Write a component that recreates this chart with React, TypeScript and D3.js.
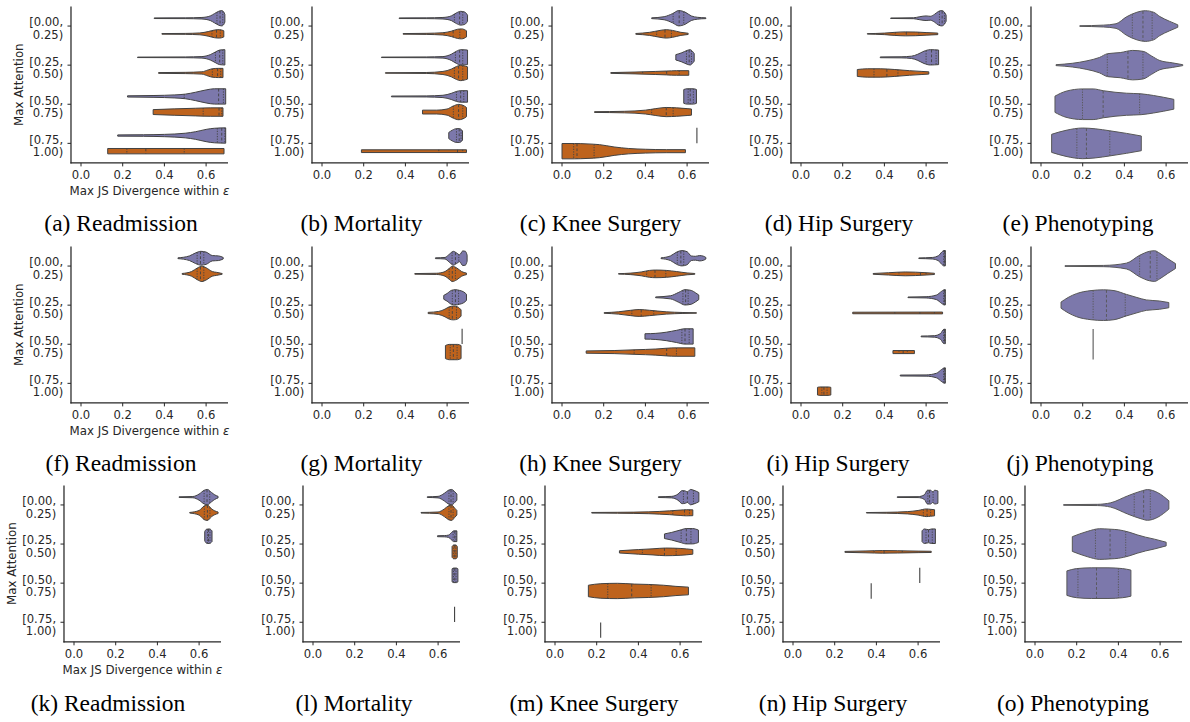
import * as d3 from 'd3';

type Pt = [number, number];
interface Violin {
  c: number; // attention bin
  h: number; // 0 purple, 1 orange, -1 single hue (no dodge)
  q?: [number, number, number];
  p?: Pt[]; // [value, relative density]
  at?: number; // single observation
}

const attentionBins = [
  ['[0.00,', '0.25)'],
  ['[0.25,', '0.50)'],
  ['[0.50,', '0.75)'],
  ['[0.75,', '1.00)'],
];
const xTicks = [0, 0.2, 0.4, 0.6];
const tasks = ['Readmission', 'Mortality', 'Knee Surgery', 'Hip Surgery', 'Phenotyping'];
const letters = 'abcdefghijklmno'.split('');

const panelA: Violin[] = [
  { c: 0, h: 0, q: [0.652, 0.667, 0.68], p: [[0.351, 0.04], [0.5, 0.05], [0.58, 0.1], [0.62, 0.3], [0.64, 0.6], [0.66, 0.9], [0.675, 1], [0.685, 0.8], [0.69, 0.5]] },
  { c: 0, h: 1, q: [0.628, 0.65, 0.668], p: [[0.388, 0.04], [0.5, 0.06], [0.57, 0.12], [0.61, 0.3], [0.64, 0.5], [0.665, 0.55], [0.685, 0.4]] },
  { c: 1, h: 0, q: [0.645, 0.665, 0.68], p: [[0.271, 0.03], [0.5, 0.05], [0.58, 0.1], [0.62, 0.35], [0.645, 0.7], [0.665, 0.95], [0.69, 1]] },
  { c: 1, h: 1, q: [0.63, 0.655, 0.67], p: [[0.372, 0.05], [0.5, 0.08], [0.58, 0.15], [0.61, 0.4], [0.63, 0.55], [0.66, 0.6], [0.681, 0.6]] },
  { c: 2, h: 0, q: [0.495, 0.66, 0.683], p: [[0.223, 0.08], [0.35, 0.12], [0.45, 0.2], [0.5, 0.3], [0.55, 0.55], [0.6, 0.85], [0.64, 1], [0.694, 1]] },
  { c: 2, h: 1, q: [0.586, 0.662, 0.675], p: [[0.346, 0.32], [0.45, 0.42], [0.55, 0.5], [0.62, 0.55], [0.681, 0.55]] },
  { c: 3, h: 0, q: [0.654, 0.675, 0.69], p: [[0.176, 0.08], [0.3, 0.1], [0.4, 0.15], [0.5, 0.3], [0.55, 0.5], [0.6, 0.8], [0.64, 0.95], [0.694, 1]] },
  { c: 3, h: 1, q: [0.22, 0.311, 0.495], p: [[0.128, 0.35], [0.686, 0.35]] },
];

const panelB: Violin[] = [
  { c: 0, h: 0, q: [0.635, 0.66, 0.675], p: [[0.37, 0.04], [0.5, 0.05], [0.58, 0.1], [0.62, 0.3], [0.645, 0.7], [0.665, 0.9], [0.685, 0.8], [0.698, 0.4]] },
  { c: 0, h: 1, q: [0.586, 0.629, 0.661], p: [[0.389, 0.04], [0.5, 0.07], [0.58, 0.15], [0.62, 0.35], [0.65, 0.6], [0.67, 0.65], [0.693, 0.4]] },
  { c: 1, h: 0, q: [0.64, 0.66, 0.675], p: [[0.285, 0.03], [0.5, 0.05], [0.58, 0.1], [0.62, 0.4], [0.645, 0.8], [0.665, 1], [0.698, 0.95]] },
  { c: 1, h: 1, q: [0.635, 0.655, 0.675], p: [[0.304, 0.03], [0.5, 0.06], [0.58, 0.2], [0.62, 0.5], [0.645, 0.85], [0.665, 1], [0.698, 0.8]] },
  { c: 2, h: 0, q: [0.645, 0.665, 0.68], p: [[0.333, 0.05], [0.5, 0.07], [0.58, 0.15], [0.62, 0.4], [0.645, 0.65], [0.665, 0.75], [0.698, 0.75]] },
  { c: 2, h: 1, q: [0.63, 0.655, 0.675], p: [[0.482, 0.25], [0.55, 0.25], [0.6, 0.4], [0.63, 0.8], [0.655, 1], [0.675, 0.9], [0.693, 0.6]] },
  { c: 3, h: 0, q: [0.645, 0.658, 0.667], p: [[0.608, 0.4], [0.625, 0.7], [0.645, 0.9], [0.66, 0.9], [0.674, 0.6]] },
  { c: 3, h: 1, q: [0.56, 0.65, 0.675], p: [[0.189, 0.18], [0.693, 0.18]] },
];

const panelC: Violin[] = [
  { c: 0, h: 0, q: [0.533, 0.562, 0.584], p: [[0.43, 0.05], [0.49, 0.2], [0.53, 0.6], [0.56, 1], [0.59, 0.8], [0.62, 0.3], [0.65, 0.12], [0.69, 0.05]] },
  { c: 0, h: 1, q: [0.454, 0.494, 0.525], p: [[0.354, 0.05], [0.42, 0.2], [0.47, 0.45], [0.5, 0.55], [0.53, 0.45], [0.57, 0.2], [0.605, 0.08]] },
  { c: 1, h: 0, q: [0.597, 0.61, 0.621], p: [[0.546, 0.35], [0.575, 0.6], [0.6, 0.9], [0.615, 1], [0.625, 0.8], [0.634, 0.5]] },
  { c: 1, h: 1, q: [0.387, 0.502, 0.562], p: [[0.234, 0.05], [0.35, 0.12], [0.45, 0.2], [0.5, 0.25], [0.55, 0.3], [0.608, 0.3]] },
  { c: 2, h: 0, q: [0.605, 0.615, 0.63], p: [[0.584, 0.9], [0.6, 1], [0.63, 1], [0.645, 0.9]] },
  { c: 2, h: 1, q: [0.43, 0.5, 0.533], p: [[0.156, 0.05], [0.3, 0.1], [0.4, 0.25], [0.45, 0.45], [0.5, 0.6], [0.55, 0.55], [0.6, 0.45], [0.621, 0.4]] },
  { c: 3, h: 0, at: 0.647 },
  { c: 3, h: 1, q: [0.056, 0.072, 0.154], p: [[0, 1], [0.06, 1], [0.12, 0.95], [0.18, 0.85], [0.25, 0.55], [0.32, 0.35], [0.4, 0.25], [0.5, 0.2], [0.592, 0.2]] },
];

const panelD: Violin[] = [
  { c: 0, h: 0, q: [0.664, 0.677, 0.688], p: [[0.43, 0.03], [0.54, 0.06], [0.57, 0.2], [0.6, 0.3], [0.62, 0.25], [0.64, 0.5], [0.66, 0.9], [0.675, 1], [0.69, 0.7], [0.696, 0.4]] },
  { c: 0, h: 1, q: [0.452, 0.505, 0.565], p: [[0.318, 0.03], [0.4, 0.1], [0.45, 0.2], [0.5, 0.26], [0.55, 0.24], [0.6, 0.17], [0.656, 0.1]] },
  { c: 1, h: 0, q: [0.6, 0.626, 0.648], p: [[0.38, 0.05], [0.48, 0.07], [0.53, 0.15], [0.56, 0.4], [0.59, 0.8], [0.62, 1], [0.66, 0.95]] },
  { c: 1, h: 1, q: [0.35, 0.412, 0.465], p: [[0.27, 0.45], [0.32, 0.55], [0.38, 0.55], [0.45, 0.45], [0.52, 0.3], [0.58, 0.2], [0.613, 0.15]] },
];

const panelE: Violin[] = [
  { c: 0, h: -1, q: [0.438, 0.489, 0.533], p: [[0.186, 0.02], [0.3, 0.06], [0.36, 0.15], [0.41, 0.6], [0.46, 0.9], [0.5, 1], [0.54, 0.9], [0.57, 0.62], [0.615, 0.32], [0.656, 0.08]] },
  { c: 1, h: -1, q: [0.318, 0.417, 0.489], p: [[0.072, 0.03], [0.15, 0.12], [0.22, 0.28], [0.28, 0.5], [0.32, 0.75], [0.38, 0.82], [0.44, 0.96], [0.49, 0.9], [0.53, 0.6], [0.57, 0.3], [0.63, 0.15], [0.68, 0.03]] },
  { c: 2, h: -1, q: [0.199, 0.298, 0.473], p: [[0.067, 0.53], [0.12, 0.85], [0.2, 1], [0.25, 1], [0.3, 0.88], [0.41, 0.72], [0.48, 0.68], [0.54, 0.57], [0.637, 0.32]] },
  { c: 3, h: -1, q: [0.172, 0.218, 0.33], p: [[0.051, 0.59], [0.12, 0.85], [0.2, 1], [0.26, 0.95], [0.33, 0.82], [0.41, 0.65], [0.481, 0.48]] },
];

const panelF: Violin[] = [
  { c: 0, h: 0, q: [0.557, 0.573, 0.589], p: [[0.465, 0.05], [0.52, 0.3], [0.55, 0.7], [0.575, 0.9], [0.6, 0.8], [0.63, 0.35], [0.66, 0.3], [0.682, 0.1]] },
  { c: 0, h: 1, q: [0.557, 0.573, 0.589], p: [[0.485, 0.05], [0.53, 0.3], [0.56, 0.8], [0.58, 1], [0.6, 0.8], [0.63, 0.3], [0.65, 0.2], [0.677, 0.05]] },
];

const panelG: Violin[] = [
  { c: 0, h: 0, q: [0.624, 0.64, 0.656], p: [[0.544, 0.05], [0.59, 0.1], [0.61, 0.5], [0.63, 0.9], [0.645, 0.7], [0.66, 0.45], [0.675, 0.95], [0.688, 0.9], [0.696, 0.4]] },
  { c: 0, h: 1, q: [0.61, 0.625, 0.64], p: [[0.445, 0.04], [0.55, 0.08], [0.59, 0.3], [0.61, 0.7], [0.625, 1], [0.645, 0.8], [0.67, 0.3], [0.693, 0.1]] },
  { c: 1, h: 0, q: [0.625, 0.64, 0.655], p: [[0.584, 0.25], [0.6, 0.5], [0.62, 0.9], [0.64, 1], [0.66, 0.9], [0.68, 0.7], [0.693, 0.4]] },
  { c: 1, h: 1, q: [0.61, 0.625, 0.645], p: [[0.509, 0.08], [0.56, 0.2], [0.59, 0.5], [0.61, 0.8], [0.63, 0.9], [0.65, 0.8], [0.667, 0.4]] },
  { c: 2, h: 0, at: 0.672 },
  { c: 2, h: 1, q: [0.615, 0.63, 0.648], p: [[0.592, 0.85], [0.61, 1], [0.65, 1], [0.667, 0.85]] },
];

const panelH: Violin[] = [
  { c: 0, h: 0, q: [0.553, 0.57, 0.584], p: [[0.475, 0.05], [0.52, 0.3], [0.55, 0.8], [0.575, 1], [0.6, 0.85], [0.62, 0.3], [0.64, 0.25], [0.66, 0.35], [0.68, 0.25], [0.69, 0.1]] },
  { c: 0, h: 1, q: [0.406, 0.446, 0.498], p: [[0.271, 0.03], [0.33, 0.1], [0.38, 0.25], [0.42, 0.45], [0.45, 0.5], [0.5, 0.45], [0.55, 0.3], [0.6, 0.12], [0.637, 0.05]] },
  { c: 1, h: 0, q: [0.58, 0.593, 0.605], p: [[0.449, 0.05], [0.52, 0.2], [0.56, 0.65], [0.59, 1], [0.62, 0.9], [0.64, 0.6], [0.656, 0.3]] },
  { c: 1, h: 1, q: [0.335, 0.38, 0.44], p: [[0.202, 0.04], [0.27, 0.15], [0.33, 0.35], [0.37, 0.45], [0.42, 0.35], [0.5, 0.15], [0.58, 0.06], [0.645, 0.03]] },
  { c: 2, h: 0, q: [0.575, 0.59, 0.61], p: [[0.398, 0.35], [0.45, 0.4], [0.5, 0.55], [0.55, 0.8], [0.59, 1], [0.629, 1]] },
  { c: 2, h: 1, q: [0.346, 0.502, 0.549], p: [[0.116, 0.15], [0.25, 0.2], [0.35, 0.3], [0.45, 0.4], [0.5, 0.5], [0.55, 0.55], [0.637, 0.55]] },
];

const panelI: Violin[] = [
  { c: 0, h: 0, q: [0.684, 0.689, 0.691], p: [[0.565, 0.04], [0.63, 0.1], [0.66, 0.35], [0.675, 0.8], [0.685, 1], [0.692, 1]] },
  { c: 0, h: 1, q: [0.47, 0.573, 0.6], p: [[0.346, 0.05], [0.42, 0.15], [0.5, 0.25], [0.55, 0.22], [0.6, 0.15], [0.64, 0.08]] },
  { c: 1, h: 0, q: [0.684, 0.689, 0.691], p: [[0.513, 0.04], [0.6, 0.08], [0.65, 0.3], [0.675, 0.8], [0.688, 1], [0.692, 1]] },
  { c: 1, h: 1, q: [0.45, 0.57, 0.64], p: [[0.248, 0.1], [0.679, 0.12]] },
  { c: 2, h: 0, q: [0.684, 0.689, 0.691], p: [[0.576, 0.05], [0.64, 0.1], [0.67, 0.4], [0.683, 0.9], [0.692, 0.95]] },
  { c: 2, h: 1, q: [0.47, 0.49, 0.51], p: [[0.441, 0.2], [0.544, 0.2]] },
  { c: 3, h: 0, q: [0.684, 0.689, 0.691], p: [[0.476, 0.06], [0.6, 0.08], [0.65, 0.3], [0.675, 0.8], [0.688, 1], [0.692, 1]] },
  { c: 3, h: 1, q: [0.1, 0.11, 0.125], p: [[0.079, 0.5], [0.09, 0.55], [0.13, 0.55], [0.143, 0.5]] },
];

const panelJ: Violin[] = [
  { c: 0, h: -1, q: [0.473, 0.524, 0.556], p: [[0.115, 0.02], [0.3, 0.04], [0.41, 0.19], [0.473, 0.7], [0.52, 0.96], [0.545, 1], [0.57, 0.83], [0.608, 0.48], [0.645, 0.16]] },
  { c: 1, h: -1, q: [0.25, 0.314, 0.404], p: [[0.096, 0.2], [0.13, 0.5], [0.17, 0.75], [0.24, 0.95], [0.3, 1], [0.35, 0.95], [0.41, 0.7], [0.46, 0.5], [0.505, 0.34], [0.568, 0.27], [0.613, 0.17]] },
  { c: 2, h: -1, at: 0.25 },
];

const panelK: Violin[] = [
  { c: 0, h: 0, q: [0.624, 0.638, 0.651], p: [[0.504, 0.04], [0.57, 0.08], [0.6, 0.4], [0.625, 0.9], [0.64, 1], [0.66, 0.6], [0.675, 0.3], [0.691, 0.1]] },
  { c: 0, h: 1, q: [0.625, 0.64, 0.652], p: [[0.555, 0.04], [0.6, 0.3], [0.625, 0.9], [0.64, 1], [0.66, 0.5], [0.675, 0.25], [0.691, 0.1]] },
  { c: 1, h: 0, q: [0.64, 0.645, 0.652], p: [[0.627, 0.6], [0.635, 0.9], [0.65, 0.95], [0.662, 0.7]] },
];

const panelL: Violin[] = [
  { c: 0, h: 0, q: [0.652, 0.662, 0.672], p: [[0.548, 0.04], [0.6, 0.1], [0.63, 0.5], [0.65, 0.9], [0.665, 1], [0.68, 0.7], [0.69, 0.4]] },
  { c: 0, h: 1, q: [0.652, 0.662, 0.672], p: [[0.518, 0.04], [0.6, 0.1], [0.63, 0.5], [0.65, 0.9], [0.665, 1], [0.68, 0.6], [0.69, 0.3]] },
  { c: 1, h: 0, q: [0.672, 0.68, 0.686], p: [[0.597, 0.06], [0.63, 0.08], [0.65, 0.15], [0.665, 0.5], [0.675, 0.7], [0.69, 0.7]] },
  { c: 1, h: 1, q: [0.675, 0.68, 0.685], p: [[0.667, 0.7], [0.675, 0.9], [0.685, 0.9], [0.692, 0.7]] },
  { c: 2, h: 0, q: [0.674, 0.68, 0.686], p: [[0.667, 0.85], [0.675, 0.95], [0.688, 0.95], [0.695, 0.85]] },
  { c: 3, h: 0, at: 0.679 },
];

const panelM: Violin[] = [
  { c: 0, h: 0, q: [0.616, 0.635, 0.664], p: [[0.496, 0.05], [0.56, 0.1], [0.59, 0.4], [0.61, 0.85], [0.625, 0.8], [0.635, 0.7], [0.65, 1], [0.665, 0.9], [0.69, 0.6]] },
  { c: 0, h: 1, q: [0.565, 0.621, 0.645], p: [[0.176, 0.04], [0.3, 0.06], [0.45, 0.12], [0.55, 0.25], [0.6, 0.35], [0.63, 0.4], [0.661, 0.38]] },
  { c: 1, h: 0, q: [0.605, 0.63, 0.652], p: [[0.525, 0.3], [0.56, 0.5], [0.6, 0.8], [0.63, 1], [0.66, 1], [0.688, 0.8]] },
  { c: 1, h: 1, q: [0.419, 0.525, 0.581], p: [[0.309, 0.15], [0.4, 0.3], [0.47, 0.4], [0.53, 0.5], [0.6, 0.45], [0.661, 0.3]] },
  { c: 2, h: 1, q: [0.253, 0.368, 0.461], p: [[0.16, 0.75], [0.22, 0.95], [0.3, 1], [0.38, 0.9], [0.45, 0.85], [0.52, 0.75], [0.58, 0.6], [0.64, 0.5]] },
  { c: 3, h: 1, at: 0.219 },
];

const panelN: Violin[] = [
  { c: 0, h: 0, q: [0.647, 0.655, 0.672], p: [[0.5, 0.04], [0.6, 0.06], [0.63, 0.3], [0.645, 0.9], [0.66, 0.9], [0.67, 0.7], [0.68, 0.9], [0.695, 0.8]] },
  { c: 0, h: 1, q: [0.625, 0.643, 0.66], p: [[0.352, 0.03], [0.45, 0.06], [0.55, 0.15], [0.6, 0.3], [0.64, 0.5], [0.66, 0.45], [0.679, 0.4]] },
  { c: 1, h: 0, q: [0.638, 0.65, 0.668], p: [[0.619, 0.7], [0.63, 0.95], [0.65, 0.85], [0.665, 0.95], [0.683, 0.95]] },
  { c: 1, h: 1, q: [0.389, 0.437, 0.524], p: [[0.249, 0.06], [0.35, 0.12], [0.43, 0.17], [0.5, 0.15], [0.6, 0.1], [0.663, 0.08]] },
  { c: 2, h: 0, at: 0.608 },
  { c: 2, h: 1, at: 0.375 },
];

const panelO: Violin[] = [
  { c: 0, h: -1, q: [0.476, 0.521, 0.553], p: [[0.137, 0.02], [0.3, 0.04], [0.363, 0.14], [0.444, 0.59], [0.508, 0.9], [0.54, 1], [0.589, 0.8], [0.642, 0.27]] },
  { c: 1, h: -1, q: [0.29, 0.36, 0.435], p: [[0.179, 0.48], [0.25, 0.82], [0.31, 1], [0.36, 0.97], [0.4, 0.93], [0.45, 0.78], [0.49, 0.6], [0.53, 0.45], [0.573, 0.32], [0.629, 0.12]] },
  { c: 2, h: -1, q: [0.206, 0.295, 0.4], p: [[0.153, 0.8], [0.2, 0.95], [0.27, 1], [0.35, 1], [0.42, 0.95], [0.46, 0.85]] },
];

const panels = [panelA, panelB, panelC, panelD, panelE, panelF, panelG, panelH, panelI, panelJ, panelK, panelL, panelM, panelN, panelO];

// layout
const W = 1190;
const H = 722;
const rowTop = [6.5, 246.5, 485.4];
const rowX0 = [
  [81, 322, 562, 801, 1041],
  [81, 322, 562, 801, 1041],
  [74, 313, 555, 793, 1035],
];
const titleX = [
  [121, 361.5, 600.5, 839, 1078],
  [121, 361.5, 600.5, 838, 1080],
  [108, 354, 594, 833, 1073],
];
const titleY = [231, 471, 711];
const band = 39.1;
const unit = 208.5;
const xDomain: [number, number] = [-0.048, 0.705];
const fills = ['#7c78ab', '#be631d'];
const ink = '#262626';
const sans = 'DejaVu Sans, sans-serif';
const tickSize = 11.6;

function ViolinMark({ v, x, y, hw, gray }: { v: Violin; x: d3.ScaleLinear<number, number>; y: d3.ScaleLinear<number, number>; hw: number; gray: string }) {
  const yc = y(v.c + (v.h < 0 ? 0 : v.h === 0 ? -0.2 : 0.2));
  if (v.at !== undefined) {
    return <line x1={x(v.at)} x2={x(v.at)} y1={yc - hw} y2={yc + hw} stroke={gray} strokeWidth={1.1} />;
  }
  const p = v.p!;
  const area = d3
    .area<Pt>()
    .x((d) => x(d[0]))
    .y0((d) => yc - d[1] * hw)
    .y1((d) => yc + d[1] * hw)
    .curve(d3.curveMonotoneX);
  const wAt = d3.scaleLinear(p.map((d) => d[0]), p.map((d) => d[1])).clamp(true);
  const fill = fills[v.h < 0 ? 0 : v.h];
  return (
    <g>
      <path d={area(p) ?? ''} fill={fill} stroke={gray} strokeWidth={1} strokeLinejoin="round" />
      {v.q!.map((q, i) => {
        const w = wAt(q) * hw;
        return (
          <line
            key={i}
            x1={x(q)}
            x2={x(q)}
            y1={yc - w}
            y2={yc + w}
            stroke={gray}
            strokeWidth={0.9}
            strokeDasharray={i === 1 ? '2.8,2' : '1.3,1.3'}
          />
        );
      })}
    </g>
  );
}

function Panel({ idx }: { idx: number }) {
  const row = Math.floor(idx / 5);
  const col = idx % 5;
  const data = panels[idx];
  const x0 = rowX0[row][col];
  const top = rowTop[row];
  const bottom = top + 4 * band;
  const x = d3.scaleLinear(xDomain, [x0 + xDomain[0] * unit, x0 + xDomain[1] * unit]);
  const y = d3.scaleLinear([-0.5, 3.5], [top, bottom]);
  const dodge = data.some((v) => v.h >= 0);
  const gray = dodge ? '#424242' : '#575757';
  const hw = (y(dodge ? 0.2 : 0.4) - y(0)) * 0.98;
  const [xl, xr] = x.range();

  return (
    <g>
      {data.map((v, i) => (
        <ViolinMark key={i} v={v} x={x} y={y} hw={hw} gray={gray} />
      ))}
      {/* spines */}
      <line x1={xl} x2={xl} y1={top} y2={bottom + 0.6} stroke={ink} strokeWidth={1.25} />
      <line x1={xl - 0.6} x2={xr} y1={bottom} y2={bottom} stroke={ink} strokeWidth={1.25} />
      {/* y ticks */}
      {attentionBins.map((lines, c) => (
        <g key={c}>
          <line x1={xl - 3.5} x2={xl} y1={y(c)} y2={y(c)} stroke={ink} strokeWidth={1} />
          <text x={xl - 7.8} y={y(c) + 0.4} textAnchor="end" fontFamily={sans} fontSize={tickSize} fill={ink}>
            {lines[0]}
          </text>
          <text x={xl - 7.8} y={y(c) + 12.8} textAnchor="end" fontFamily={sans} fontSize={tickSize} fill={ink}>
            {lines[1]}
          </text>
        </g>
      ))}
      {/* x ticks */}
      {xTicks.map((t) => (
        <g key={t}>
          <line x1={x(t)} x2={x(t)} y1={bottom} y2={bottom + 3.5} stroke={ink} strokeWidth={1} />
          <text x={x(t)} y={bottom + 16.5} textAnchor="middle" fontFamily={sans} fontSize={tickSize} fill={ink}>
            {d3.format('.1f')(t)}
          </text>
        </g>
      ))}
      {col === 0 && (
        <>
          <text
            transform={`translate(${xl - 52},${(top + bottom) / 2}) rotate(-90)`}
            textAnchor="middle"
            dominantBaseline="central"
            fontFamily={sans}
            fontSize={11.8}
            fill={ink}
          >
            Max Attention
          </text>
          <text x={(xl + xr) / 2} y={bottom + 32} textAnchor="middle" fontFamily={sans} fontSize={11.8} fill={ink}>
            Max JS Divergence within <tspan fontStyle="italic">ε</tspan>
          </text>
        </>
      )}
      <text
        x={titleX[row][col]}
        y={titleY[row]}
        textAnchor="middle"
        fontFamily="Liberation Serif, Times New Roman, serif"
        fontSize={23.5}
        fill="#000"
      >
        ({letters[idx]}) {tasks[col]}
      </text>
    </g>
  );
}

export default function App() {
  return (
    <svg
      width={W}
      height={H}
      viewBox={`0 0 ${W} ${H}`}
      style={{ position: 'absolute', left: 0, top: 0, background: '#fff' }}
    >
      <rect width={W} height={H} fill="#fff" />
      {panels.map((_, i) => (
        <Panel key={i} idx={i} />
      ))}
    </svg>
  );
}
